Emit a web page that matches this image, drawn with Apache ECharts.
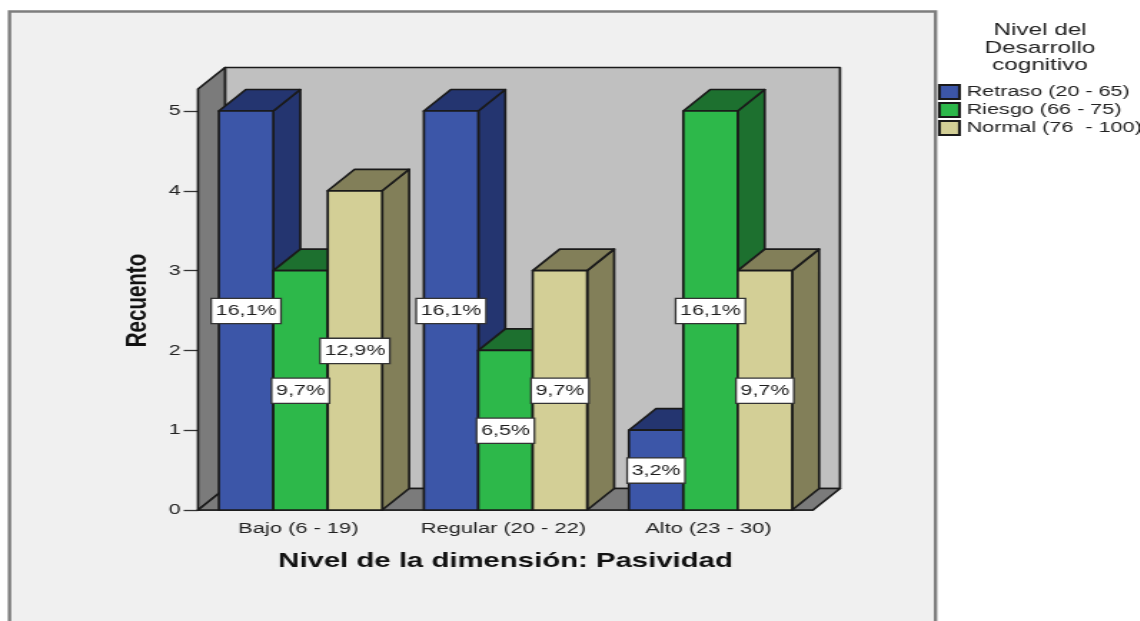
<!DOCTYPE html>
<html>
<head>
<meta charset="utf-8">
<style>
html,body{margin:0;padding:0;background:#fff;overflow:hidden;width:1140px;height:621px}
#stage{position:absolute;left:0;top:0;width:797.2px;height:621px;transform:scaleX(1.43);transform-origin:0 0;filter:blur(0.4px)}
</style>
<script src="https://cdn.jsdelivr.net/npm/echarts@6/dist/echarts.min.js"></script>
</head>
<body>
<div id="stage"></div>
<script>
const categories = ['Bajo (6 - 19)', 'Regular (20 - 22)', 'Alto (23 - 30)'];
const yTicks = [0, 1, 2, 3, 4, 5];
const retraso = [5, 5, 1];
const riesgo = [3, 2, 5];
const normal = [4, 3, 3];
const retrasoPct = ['16,1%', '16,1%', '3,2%'];
const riesgoPct = ['9,7%', '6,5%', '16,1%'];
const normalPct = ['12,9%', '9,7%', '9,7%'];
const wallTop = [5.276];
const names = ['Retraso (20 - 65)', 'Riesgo (66 - 75)', 'Normal (76  - 100)'];

const K = 1.43;              // the whole picture is stretched horizontally
const DX = 27 / K, DY = 21.5; // 3D depth
const BAR = 0.2655;          // bar width as a share of a category band
const EDGE = '#1a1a1a';
const FONT = '"Liberation Sans", Arial, sans-serif';

function poly(pts, fill, z2) {
  return {type: 'polygon', shape: {points: pts}, z2: z2 || 0,
    style: {fill: fill, stroke: EDGE, lineWidth: 1.7, lineJoin: 'round'}};
}
function barSeries(name, vals, pcts, slot, front, side, top) {
  return {
    type: 'custom', name: name, coordinateSystem: 'cartesian2d', z: 3,
    itemStyle: {color: front, borderColor: EDGE, borderWidth: 1.6},
    data: vals.map((v, i) => [i, v]),
    renderItem: function (params, api) {
      const i = api.value(0), v = api.value(1);
      const base = api.coord([i, 0]), head = api.coord([i, v]);
      const w = api.size([1, 0])[0] * BAR;
      const x0 = base[0] + (slot - 1.5) * w, x1 = x0 + w;
      const y0 = base[1], y1 = head[1];
      const mid = api.coord([i, v / 2])[1];
      return {type: 'group', children: [
        poly([[x1, y0], [x1 + DX, y0 - DY], [x1 + DX, y1 - DY], [x1, y1]], side),
        poly([[x0, y1], [x0 + DX, y1 - DY], [x1 + DX, y1 - DY], [x1, y1]], top),
        poly([[x0, y0], [x1, y0], [x1, y1], [x0, y1]], front),
        {type: 'text', z2: 100, x: (x0 + x1) / 2, y: mid + 0.5, silent: true,
          style: {text: pcts[params.dataIndex], font: '15px ' + FONT, fill: '#1e1e1e',
            align: 'center', verticalAlign: 'middle', backgroundColor: '#fff',
            borderColor: '#333', borderWidth: 1.3, padding: [5, 2.5, 4, 2.5]}}
      ]};
    }
  };
}
const wallSeries = {
  type: 'custom', coordinateSystem: 'cartesian2d', z: 1, silent: true,
  data: wallTop.map(v => [0, v]),
  renderItem: function (params, api) {
    const g = params.coordSys;
    const yB = api.coord([0, 0])[1], yT = api.coord([0, api.value(1)])[1];
    const xL = g.x, xR = g.x + g.width;
    return {type: 'group', children: [
      poly([[xL + DX, yB - DY], [xR + DX, yB - DY], [xR + DX, yT - DY], [xL + DX, yT - DY]], '#c0c0c0'),
      poly([[xL, yB], [xL + DX, yB - DY], [xL + DX, yT - DY], [xL, yT]], '#7b7b7b'),
      poly([[xL, yB], [xR, yB], [xR + DX, yB - DY], [xL + DX, yB - DY]], '#7b7b7b')
    ]};
  }
};

const chart = echarts.init(document.getElementById('stage'), null, {renderer: 'canvas'});
chart.setOption({
  animation: false,
  backgroundColor: '#fff',
  textStyle: {fontFamily: FONT},
  graphic: [{type: 'rect', z: -10, silent: true,
    shape: {x: 9.5 / K, y: 11.5, width: 926 / K, height: 640},
    style: {fill: '#f0f0f0', stroke: '#7e7e7e', lineWidth: 2.4}}],
  title: {
    text: 'Nivel del\nDesarrollo\ncognitivo', left: 1040 / K, top: 22, padding: 0, textAlign: 'center',
    textStyle: {fontSize: 17, fontWeight: 'normal', color: '#222', lineHeight: 17.5, fontFamily: FONT}
  },
  legend: {
    orient: 'vertical', left: 938 / K, top: 84, padding: 0, itemWidth: 14, itemHeight: 14, itemGap: 2,
    icon: 'rect', selectedMode: false, data: names,
    textStyle: {fontSize: 15.1, color: '#222', fontFamily: FONT}
  },
  grid: {left: 198 / K, width: 615 / K, top: 111, height: 399},
  xAxis: {
    type: 'category', data: categories, name: 'Nivel de la dimensión: Pasividad',
    nameLocation: 'middle', nameGap: 41,
    nameTextStyle: {fontSize: 20.5, fontWeight: 'bold', color: '#111', fontFamily: FONT},
    axisLine: {lineStyle: {color: EDGE, width: 1.6}},
    axisTick: {alignWithLabel: true, length: 9, lineStyle: {color: '#333', width: 1.3}},
    axisLabel: {fontSize: 15.3, color: '#222', margin: 11, interval: 0, padding: [0, 3, 0, 0]}
  },
  yAxis: {
    type: 'value', min: yTicks[0], max: yTicks[yTicks.length - 1], interval: 1,
    name: 'Recuento', nameLocation: 'middle', nameGap: 32,
    nameTextStyle: {fontSize: 20.5, fontWeight: 'bold', color: '#111', fontFamily: FONT, padding: [0, 0, 0, 20]},
    axisLine: {show: true, lineStyle: {color: EDGE, width: 1.6}},
    axisTick: {show: true, length: 10, lineStyle: {color: '#333', width: 1.3}},
    axisLabel: {fontSize: 15, color: '#222', margin: 12, padding: [5, 0, 0, 0]},
    splitLine: {show: false}
  },
  series: [
    wallSeries,
    barSeries(names[0], retraso, retrasoPct, 0, '#3c56a8', '#243570', '#243570'),
    barSeries(names[1], riesgo, riesgoPct, 1, '#2db84a', '#1d702f', '#1d702f'),
    barSeries(names[2], normal, normalPct, 2, '#d3cf96', '#827f59', '#827f59')
  ]
});
</script>
</body>
</html>
